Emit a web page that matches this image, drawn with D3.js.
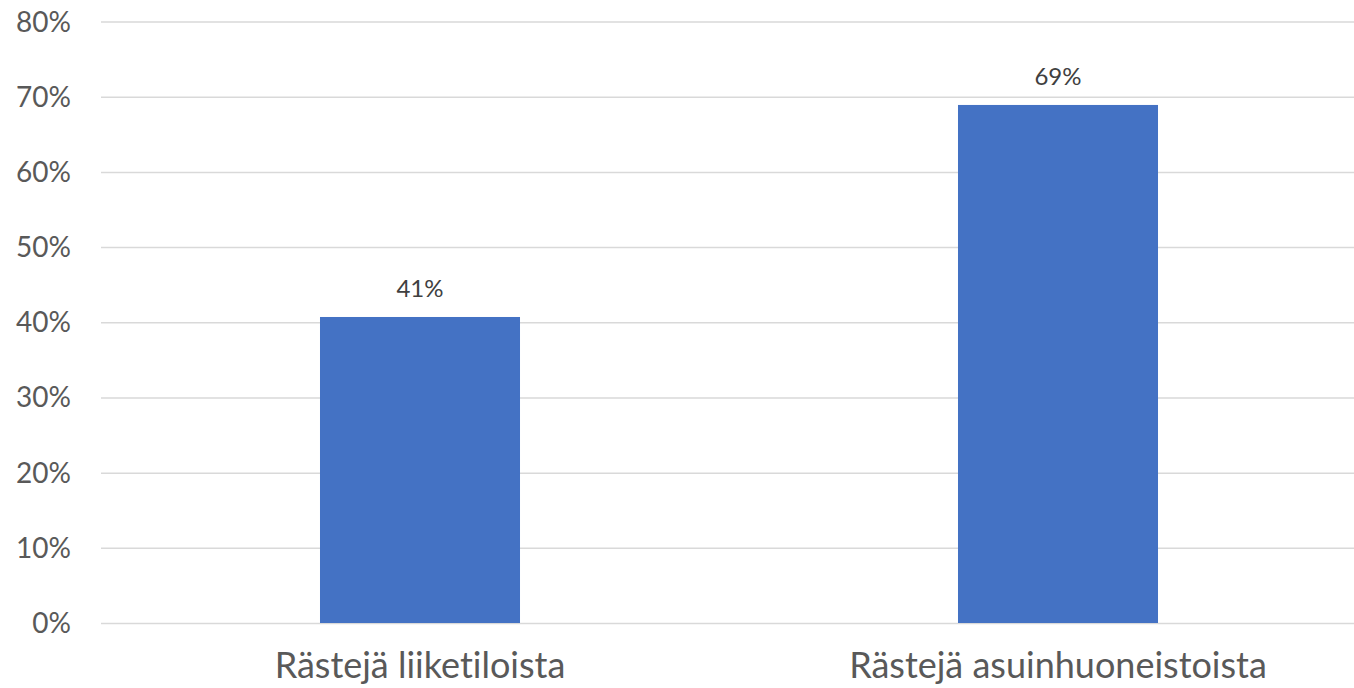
<!DOCTYPE html>
<html><head><meta charset="utf-8">
<script src="https://cdn.jsdelivr.net/npm/d3@7"></script>
<style>html,body{margin:0;padding:0;background:#fff;overflow:hidden} text{font-variant-ligatures:none;font-feature-settings:"liga" 0}</style>
</head><body>
<svg id="chart" width="1354" height="688"></svg>
<script>
const categories = ["Rästejä liiketiloista", "Rästejä asuinhuoneistoista"];
const values = [40.7, 68.9];
const valueLabels = ["41%", "69%"];
const yTicks = [0, 10, 20, 30, 40, 50, 60, 70, 80];

const svg = d3.select("#chart");
const font = "Lato, 'Open Sans', sans-serif";
const x = d3.scaleBand().domain(categories).range([101, 1377])
  .paddingInner(0.6865).paddingOuter(0.6865 / 2).align(0.5);
const y = d3.scaleLinear().domain([0, 80]).range([623, 21.5]);

const yAxis = d3.axisLeft(y).tickValues(yTicks).tickFormat(d => d + "%").tickSize(-(1354 - 101)).tickPadding(30);
const gy = svg.append("g").attr("transform", "translate(101,0)").call(yAxis);
gy.select(".domain").remove();
gy.selectAll(".tick line").attr("stroke", "#D9D9D9").attr("stroke-width", 1.5);
gy.selectAll(".tick text").attr("fill", "#595959").style("font-family", font).style("font-size", "28px").attr("dy", "0.34em");

svg.selectAll("rect.bar").data(values).join("rect").attr("class", "bar")
  .attr("x", (d, i) => x(categories[i])).attr("width", x.bandwidth())
  .attr("y", d => y(d)).attr("height", d => y(0) - y(d)).attr("fill", "#4472C4");

svg.selectAll("text.vl").data(values).join("text").attr("class", "vl")
  .attr("x", (d, i) => x(categories[i]) + x.bandwidth() / 2)
  .attr("y", d => y(d) - 20).attr("text-anchor", "middle")
  .attr("fill", "#404040").style("font-family", font).style("font-size", "24px")
  .text((d, i) => valueLabels[i]);

const xAxis = d3.axisBottom(x).tickSize(0).tickPadding(0);
const gx = svg.append("g").attr("transform", "translate(0,678)").call(xAxis);
gx.select(".domain").remove();
gx.selectAll(".tick text").attr("fill", "#595959").attr("dy", 0).style("font-family", font).style("font-size", "36px");
</script>
</body></html>
